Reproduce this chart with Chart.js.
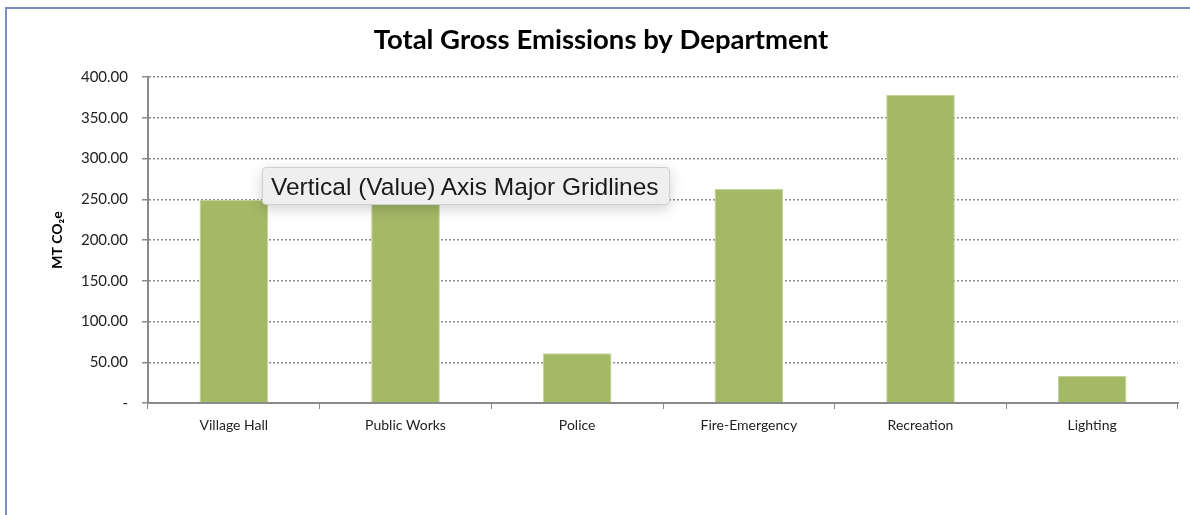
<!DOCTYPE html>
<html>
<head>
<meta charset="utf-8">
<script src="https://cdn.jsdelivr.net/npm/chart.js@4"></script>
<style>
  html, body { margin: 0; padding: 0; background: #fff; }
  #wrap { position: relative; width: 1190px; height: 515px; overflow: hidden; }
  #frame { position: absolute; left: 5px; top: 7px; width: 1200px; height: 600px;
           border-left: 2px solid #7b8fbd; border-top: 2px solid #7b8fbd; }
  #chartBox { position: absolute; left: 0; top: 0; width: 1190px; height: 515px; }
  #tip { position: absolute; left: 262px; top: 167px; width: 408px; height: 38px;
         background: #efefef; border: 1px solid #cfcfcf; border-radius: 4px;
         box-shadow: 0 4px 14px rgba(0,0,0,0.18);
         font-family: "Liberation Sans", Arial, sans-serif; font-size: 24.5px; color: #1a1a1a;
         line-height: 38px; padding-left: 8px; box-sizing: border-box; white-space: nowrap; }
</style>
</head>
<body>
<div id="wrap">
  <div id="frame"></div>
  <div id="chartBox"><canvas id="emissions"></canvas></div>
  <div id="tip">Vertical (Value) Axis Major Gridlines</div>
</div>
<script>
// dados do gráfico
const departments = ["Village Hall", "Public Works", "Police", "Fire-Emergency", "Recreation", "Lighting"];
const grossEmissions = [249, 246, 61, 263, 378, 33];
const yTicks = [0, 50, 100, 150, 200, 250, 300, 350, 400];

const ctx = document.getElementById("emissions").getContext("2d");
const fontFamily = "Lato, 'Open Sans', sans-serif";

new Chart(ctx, {
    type: "bar",
    data: {
        labels: departments,
        datasets: [{
            label: "MT CO2e",
            data: grossEmissions,
            backgroundColor: "#a3b966",
            borderColor: "#c4d39a",
            borderWidth: 1,
            categoryPercentage: 1,
            barPercentage: 0.4,
        }],
    },
    options: {
        responsive: true,
        maintainAspectRatio: false,
        animation: false,
        layout: { padding: { top: 18, right: 12, left: 24, bottom: 0 } },
        plugins: {
            legend: { display: false },
            tooltip: { enabled: false },
            title: {
                display: true,
                text: "Total Gross Emissions by Department",
                color: "#000",
                font: { family: fontFamily, size: 27.5, weight: "bold" },
                padding: { top: 6, bottom: 20 },
            },
        },
        scales: {
            x: {
                grid: { display: true, drawOnChartArea: false, offset: true, tickLength: 6, color: "#888", tickColor: "#888" },
                border: { color: "#8a8a8a", width: 2 },
                ticks: { color: "#222", font: { family: fontFamily, size: 14 }, padding: 8, maxRotation: 0 },
                afterFit: (s) => { s.height = 112; },
            },
            y: {
                min: 0,
                max: 400,
                afterBuildTicks: (s) => { s.ticks = yTicks.map(v => ({ value: v })); },
                grid: { color: "#8c8c8c", lineWidth: 1.5, tickLength: 6, tickColor: "#8a8a8a", tickBorderDash: [] },
                border: { color: "#8a8a8a", width: 2, dash: [2, 2] },
                ticks: {
                    color: "#222",
                    font: { family: fontFamily, size: 15 },
                    padding: 14,
                    callback: (v) => v === 0 ? "-" : v.toFixed(2),
                },
                title: {
                    display: true,
                    text: "MT CO\u2082e",
                    color: "#000",
                    font: { family: fontFamily, size: 14, weight: "bold" },
                    padding: { top: 25, bottom: 0 },
                },
                afterFit: (s) => { s.width = 124; },
            },
        },
    },
});
</script>
</body>
</html>
